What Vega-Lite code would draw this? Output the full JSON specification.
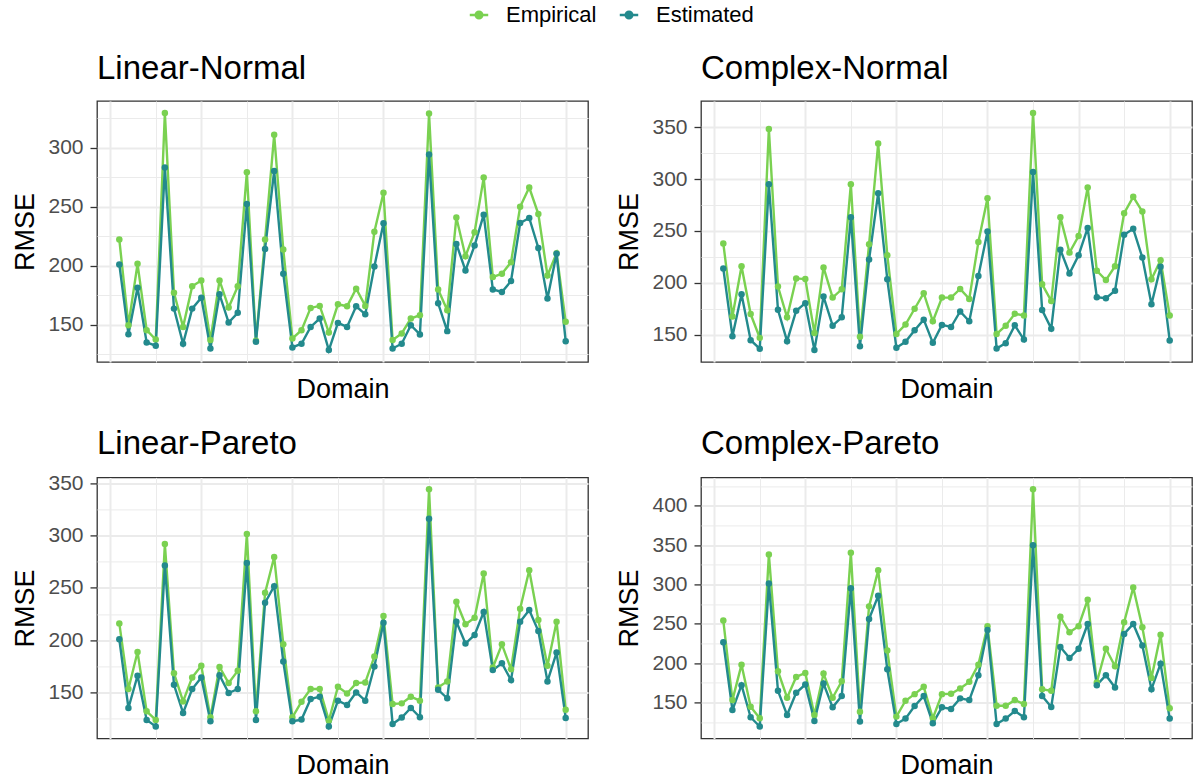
{
  "$schema": "https://vega.github.io/schema/vega-lite/v6.json",
  "padding": {"left": 11, "top": 4, "right": 6, "bottom": 4},
  "background": "white",
  "data": {"values": [
    {"panel":"Linear-Normal","domain":1,"Empirical":222.1,"Estimated":201.0},
    {"panel":"Linear-Normal","domain":2,"Empirical":149.4,"Estimated":141.8},
    {"panel":"Linear-Normal","domain":3,"Empirical":201.5,"Estimated":181.3},
    {"panel":"Linear-Normal","domain":4,"Empirical":145.2,"Estimated":134.8},
    {"panel":"Linear-Normal","domain":5,"Empirical":137.3,"Estimated":132.0},
    {"panel":"Linear-Normal","domain":6,"Empirical":329.6,"Estimated":283.2},
    {"panel":"Linear-Normal","domain":7,"Empirical":177.0,"Estimated":163.5},
    {"panel":"Linear-Normal","domain":8,"Empirical":148.0,"Estimated":133.7},
    {"panel":"Linear-Normal","domain":9,"Empirical":182.4,"Estimated":163.5},
    {"panel":"Linear-Normal","domain":10,"Empirical":187.4,"Estimated":172.8},
    {"panel":"Linear-Normal","domain":11,"Empirical":136.8,"Estimated":129.7},
    {"panel":"Linear-Normal","domain":12,"Empirical":187.4,"Estimated":175.6},
    {"panel":"Linear-Normal","domain":13,"Empirical":164.4,"Estimated":151.7},
    {"panel":"Linear-Normal","domain":14,"Empirical":182.4,"Estimated":159.9},
    {"panel":"Linear-Normal","domain":15,"Empirical":279.2,"Estimated":252.2},
    {"panel":"Linear-Normal","domain":16,"Empirical":136.2,"Estimated":135.4},
    {"panel":"Linear-Normal","domain":17,"Empirical":222.1,"Estimated":214.2},
    {"panel":"Linear-Normal","domain":18,"Empirical":311.0,"Estimated":280.3},
    {"panel":"Linear-Normal","domain":19,"Empirical":213.6,"Estimated":193.1},
    {"panel":"Linear-Normal","domain":20,"Empirical":138.2,"Estimated":130.6},
    {"panel":"Linear-Normal","domain":21,"Empirical":145.2,"Estimated":133.7},
    {"panel":"Linear-Normal","domain":22,"Empirical":164.1,"Estimated":148.0},
    {"panel":"Linear-Normal","domain":23,"Empirical":165.8,"Estimated":155.1},
    {"panel":"Linear-Normal","domain":24,"Empirical":143.2,"Estimated":128.3},
    {"panel":"Linear-Normal","domain":25,"Empirical":167.2,"Estimated":151.4},
    {"panel":"Linear-Normal","domain":26,"Empirical":165.5,"Estimated":148.0},
    {"panel":"Linear-Normal","domain":27,"Empirical":180.4,"Estimated":165.5},
    {"panel":"Linear-Normal","domain":28,"Empirical":165.8,"Estimated":158.7},
    {"panel":"Linear-Normal","domain":29,"Empirical":228.8,"Estimated":199.3},
    {"panel":"Linear-Normal","domain":30,"Empirical":261.8,"Estimated":235.9},
    {"panel":"Linear-Normal","domain":31,"Empirical":136.8,"Estimated":129.7},
    {"panel":"Linear-Normal","domain":32,"Empirical":142.4,"Estimated":133.7},
    {"panel":"Linear-Normal","domain":33,"Empirical":155.1,"Estimated":149.4},
    {"panel":"Linear-Normal","domain":34,"Empirical":157.9,"Estimated":141.6},
    {"panel":"Linear-Normal","domain":35,"Empirical":329.0,"Estimated":294.4},
    {"panel":"Linear-Normal","domain":36,"Empirical":179.8,"Estimated":168.0},
    {"panel":"Linear-Normal","domain":37,"Empirical":162.1,"Estimated":144.4},
    {"panel":"Linear-Normal","domain":38,"Empirical":240.9,"Estimated":218.4},
    {"panel":"Linear-Normal","domain":39,"Empirical":208.0,"Estimated":195.9},
    {"panel":"Linear-Normal","domain":40,"Empirical":228.3,"Estimated":217.0},
    {"panel":"Linear-Normal","domain":41,"Empirical":274.7,"Estimated":243.2},
    {"panel":"Linear-Normal","domain":42,"Empirical":190.3,"Estimated":179.8},
    {"panel":"Linear-Normal","domain":43,"Empirical":193.1,"Estimated":177.6},
    {"panel":"Linear-Normal","domain":44,"Empirical":202.9,"Estimated":186.9},
    {"panel":"Linear-Normal","domain":45,"Empirical":249.9,"Estimated":236.1},
    {"panel":"Linear-Normal","domain":46,"Empirical":266.3,"Estimated":240.4},
    {"panel":"Linear-Normal","domain":47,"Empirical":243.8,"Estimated":215.0},
    {"panel":"Linear-Normal","domain":48,"Empirical":191.7,"Estimated":172.0},
    {"panel":"Linear-Normal","domain":49,"Empirical":210.5,"Estimated":210.0},
    {"panel":"Linear-Normal","domain":50,"Empirical":152.3,"Estimated":135.9},
    {"panel":"Complex-Normal","domain":1,"Empirical":238.0,"Estimated":213.8},
    {"panel":"Complex-Normal","domain":2,"Empirical":167.5,"Estimated":148.4},
    {"panel":"Complex-Normal","domain":3,"Empirical":216.0,"Estimated":188.9},
    {"panel":"Complex-Normal","domain":4,"Empirical":169.8,"Estimated":144.6},
    {"panel":"Complex-Normal","domain":5,"Empirical":146.8,"Estimated":136.3},
    {"panel":"Complex-Normal","domain":6,"Empirical":348.4,"Estimated":295.1},
    {"panel":"Complex-Normal","domain":7,"Empirical":196.3,"Estimated":173.9},
    {"panel":"Complex-Normal","domain":8,"Empirical":166.6,"Estimated":143.6},
    {"panel":"Complex-Normal","domain":9,"Empirical":204.2,"Estimated":173.0},
    {"panel":"Complex-Normal","domain":10,"Empirical":203.6,"Estimated":180.3},
    {"panel":"Complex-Normal","domain":11,"Empirical":151.6,"Estimated":135.0},
    {"panel":"Complex-Normal","domain":12,"Empirical":214.8,"Estimated":186.7},
    {"panel":"Complex-Normal","domain":13,"Empirical":185.7,"Estimated":158.6},
    {"panel":"Complex-Normal","domain":14,"Empirical":193.7,"Estimated":166.6},
    {"panel":"Complex-Normal","domain":15,"Empirical":295.1,"Estimated":263.2},
    {"panel":"Complex-Normal","domain":16,"Empirical":147.8,"Estimated":138.8},
    {"panel":"Complex-Normal","domain":17,"Empirical":237.1,"Estimated":222.4},
    {"panel":"Complex-Normal","domain":18,"Empirical":334.4,"Estimated":286.5},
    {"panel":"Complex-Normal","domain":19,"Empirical":226.6,"Estimated":203.3},
    {"panel":"Complex-Normal","domain":20,"Empirical":150.6,"Estimated":137.2},
    {"panel":"Complex-Normal","domain":21,"Empirical":159.6,"Estimated":143.0},
    {"panel":"Complex-Normal","domain":22,"Empirical":174.9,"Estimated":154.1},
    {"panel":"Complex-Normal","domain":23,"Empirical":189.9,"Estimated":164.4},
    {"panel":"Complex-Normal","domain":24,"Empirical":162.8,"Estimated":142.0},
    {"panel":"Complex-Normal","domain":25,"Empirical":185.7,"Estimated":159.3},
    {"panel":"Complex-Normal","domain":26,"Empirical":185.7,"Estimated":157.3},
    {"panel":"Complex-Normal","domain":27,"Empirical":194.0,"Estimated":172.3},
    {"panel":"Complex-Normal","domain":28,"Empirical":184.4,"Estimated":162.8},
    {"panel":"Complex-Normal","domain":29,"Empirical":239.3,"Estimated":206.5},
    {"panel":"Complex-Normal","domain":30,"Empirical":281.7,"Estimated":249.5},
    {"panel":"Complex-Normal","domain":31,"Empirical":150.6,"Estimated":136.6},
    {"panel":"Complex-Normal","domain":32,"Empirical":158.6,"Estimated":141.7},
    {"panel":"Complex-Normal","domain":33,"Empirical":170.1,"Estimated":158.9},
    {"panel":"Complex-Normal","domain":34,"Empirical":168.5,"Estimated":145.2},
    {"panel":"Complex-Normal","domain":35,"Empirical":364.0,"Estimated":306.9},
    {"panel":"Complex-Normal","domain":36,"Empirical":198.5,"Estimated":173.6},
    {"panel":"Complex-Normal","domain":37,"Empirical":182.5,"Estimated":155.7},
    {"panel":"Complex-Normal","domain":38,"Empirical":263.2,"Estimated":232.0},
    {"panel":"Complex-Normal","domain":39,"Empirical":229.1,"Estimated":209.0},
    {"panel":"Complex-Normal","domain":40,"Empirical":245.1,"Estimated":226.6},
    {"panel":"Complex-Normal","domain":41,"Empirical":292.0,"Estimated":253.0},
    {"panel":"Complex-Normal","domain":42,"Empirical":211.6,"Estimated":186.0},
    {"panel":"Complex-Normal","domain":43,"Empirical":202.6,"Estimated":185.1},
    {"panel":"Complex-Normal","domain":44,"Empirical":216.0,"Estimated":192.4},
    {"panel":"Complex-Normal","domain":45,"Empirical":267.1,"Estimated":246.3},
    {"panel":"Complex-Normal","domain":46,"Empirical":283.0,"Estimated":252.1},
    {"panel":"Complex-Normal","domain":47,"Empirical":268.7,"Estimated":224.3},
    {"panel":"Complex-Normal","domain":48,"Empirical":203.3,"Estimated":179.3},
    {"panel":"Complex-Normal","domain":49,"Empirical":221.8,"Estimated":215.4},
    {"panel":"Complex-Normal","domain":50,"Empirical":168.5,"Estimated":144.3},
    {"panel":"Linear-Pareto","domain":1,"Empirical":216.0,"Estimated":200.8},
    {"panel":"Linear-Pareto","domain":2,"Empirical":153.2,"Estimated":135.1},
    {"panel":"Linear-Pareto","domain":3,"Empirical":188.7,"Estimated":165.9},
    {"panel":"Linear-Pareto","domain":4,"Empirical":131.9,"Estimated":123.7},
    {"panel":"Linear-Pareto","domain":5,"Empirical":123.7,"Estimated":117.3},
    {"panel":"Linear-Pareto","domain":6,"Empirical":291.9,"Estimated":271.3},
    {"panel":"Linear-Pareto","domain":7,"Empirical":168.4,"Estimated":157.3},
    {"panel":"Linear-Pareto","domain":8,"Empirical":141.4,"Estimated":130.3},
    {"panel":"Linear-Pareto","domain":9,"Empirical":164.3,"Estimated":153.2},
    {"panel":"Linear-Pareto","domain":10,"Empirical":175.4,"Estimated":164.3},
    {"panel":"Linear-Pareto","domain":11,"Empirical":126.2,"Estimated":122.4},
    {"panel":"Linear-Pareto","domain":12,"Empirical":174.4,"Estimated":166.5},
    {"panel":"Linear-Pareto","domain":13,"Empirical":158.9,"Estimated":149.4},
    {"panel":"Linear-Pareto","domain":14,"Empirical":170.6,"Estimated":153.2},
    {"panel":"Linear-Pareto","domain":15,"Empirical":301.4,"Estimated":273.8},
    {"panel":"Linear-Pareto","domain":16,"Empirical":131.9,"Estimated":123.7},
    {"panel":"Linear-Pareto","domain":17,"Empirical":245.2,"Estimated":235.7},
    {"panel":"Linear-Pareto","domain":18,"Empirical":279.5,"Estimated":251.6},
    {"panel":"Linear-Pareto","domain":19,"Empirical":196.0,"Estimated":179.5},
    {"panel":"Linear-Pareto","domain":20,"Empirical":126.2,"Estimated":122.4},
    {"panel":"Linear-Pareto","domain":21,"Empirical":141.1,"Estimated":124.0},
    {"panel":"Linear-Pareto","domain":22,"Empirical":153.2,"Estimated":143.7},
    {"panel":"Linear-Pareto","domain":23,"Empirical":153.2,"Estimated":145.9},
    {"panel":"Linear-Pareto","domain":24,"Empirical":123.0,"Estimated":117.3},
    {"panel":"Linear-Pareto","domain":25,"Empirical":155.4,"Estimated":142.1},
    {"panel":"Linear-Pareto","domain":26,"Empirical":149.0,"Estimated":137.9},
    {"panel":"Linear-Pareto","domain":27,"Empirical":158.9,"Estimated":150.0},
    {"panel":"Linear-Pareto","domain":28,"Empirical":159.5,"Estimated":142.1},
    {"panel":"Linear-Pareto","domain":29,"Empirical":184.3,"Estimated":174.8},
    {"panel":"Linear-Pareto","domain":30,"Empirical":223.0,"Estimated":216.7},
    {"panel":"Linear-Pareto","domain":31,"Empirical":138.9,"Estimated":119.8},
    {"panel":"Linear-Pareto","domain":32,"Empirical":139.5,"Estimated":125.9},
    {"panel":"Linear-Pareto","domain":33,"Empirical":145.9,"Estimated":135.1},
    {"panel":"Linear-Pareto","domain":34,"Empirical":142.1,"Estimated":126.2},
    {"panel":"Linear-Pareto","domain":35,"Empirical":344.3,"Estimated":316.0},
    {"panel":"Linear-Pareto","domain":36,"Empirical":154.8,"Estimated":152.5},
    {"panel":"Linear-Pareto","domain":37,"Empirical":160.5,"Estimated":144.3},
    {"panel":"Linear-Pareto","domain":38,"Empirical":236.7,"Estimated":217.6},
    {"panel":"Linear-Pareto","domain":39,"Empirical":215.1,"Estimated":196.7},
    {"panel":"Linear-Pareto","domain":40,"Empirical":221.4,"Estimated":204.9},
    {"panel":"Linear-Pareto","domain":41,"Empirical":263.7,"Estimated":226.8},
    {"panel":"Linear-Pareto","domain":42,"Empirical":173.8,"Estimated":171.3},
    {"panel":"Linear-Pareto","domain":43,"Empirical":196.0,"Estimated":177.9},
    {"panel":"Linear-Pareto","domain":44,"Empirical":172.2,"Estimated":161.7},
    {"panel":"Linear-Pareto","domain":45,"Empirical":230.0,"Estimated":217.6},
    {"panel":"Linear-Pareto","domain":46,"Empirical":266.8,"Estimated":228.7},
    {"panel":"Linear-Pareto","domain":47,"Empirical":219.2,"Estimated":208.7},
    {"panel":"Linear-Pareto","domain":48,"Empirical":175.4,"Estimated":160.5},
    {"panel":"Linear-Pareto","domain":49,"Empirical":217.6,"Estimated":188.1},
    {"panel":"Linear-Pareto","domain":50,"Empirical":133.5,"Estimated":125.6},
    {"panel":"Complex-Pareto","domain":1,"Empirical":254.0,"Estimated":226.6},
    {"panel":"Complex-Pareto","domain":2,"Empirical":152.9,"Estimated":140.3},
    {"panel":"Complex-Pareto","domain":3,"Empirical":198.0,"Estimated":171.9},
    {"panel":"Complex-Pareto","domain":4,"Empirical":144.5,"Estimated":131.1},
    {"panel":"Complex-Pareto","domain":5,"Empirical":129.8,"Estimated":119.3},
    {"panel":"Complex-Pareto","domain":6,"Empirical":338.1,"Estimated":301.1},
    {"panel":"Complex-Pareto","domain":7,"Empirical":189.6,"Estimated":164.7},
    {"panel":"Complex-Pareto","domain":8,"Empirical":155.9,"Estimated":134.0},
    {"panel":"Complex-Pareto","domain":9,"Empirical":182.4,"Estimated":162.2},
    {"panel":"Complex-Pareto","domain":10,"Empirical":187.5,"Estimated":172.7},
    {"panel":"Complex-Pareto","domain":11,"Empirical":134.0,"Estimated":126.4},
    {"panel":"Complex-Pareto","domain":12,"Empirical":186.6,"Estimated":174.0},
    {"panel":"Complex-Pareto","domain":13,"Empirical":155.9,"Estimated":143.7},
    {"panel":"Complex-Pareto","domain":14,"Empirical":176.9,"Estimated":158.0},
    {"panel":"Complex-Pareto","domain":15,"Empirical":340.2,"Estimated":295.2},
    {"panel":"Complex-Pareto","domain":16,"Empirical":138.2,"Estimated":125.6},
    {"panel":"Complex-Pareto","domain":17,"Empirical":272.1,"Estimated":256.1},
    {"panel":"Complex-Pareto","domain":18,"Empirical":317.9,"Estimated":285.5},
    {"panel":"Complex-Pareto","domain":19,"Empirical":216.1,"Estimated":192.1},
    {"panel":"Complex-Pareto","domain":20,"Empirical":131.9,"Estimated":122.6},
    {"panel":"Complex-Pareto","domain":21,"Empirical":152.1,"Estimated":129.4},
    {"panel":"Complex-Pareto","domain":22,"Empirical":160.5,"Estimated":145.4},
    {"panel":"Complex-Pareto","domain":23,"Empirical":169.8,"Estimated":158.0},
    {"panel":"Complex-Pareto","domain":24,"Empirical":129.8,"Estimated":123.5},
    {"panel":"Complex-Pareto","domain":25,"Empirical":160.5,"Estimated":143.7},
    {"panel":"Complex-Pareto","domain":26,"Empirical":160.9,"Estimated":141.6},
    {"panel":"Complex-Pareto","domain":27,"Empirical":167.7,"Estimated":155.1},
    {"panel":"Complex-Pareto","domain":28,"Empirical":176.1,"Estimated":152.9},
    {"panel":"Complex-Pareto","domain":29,"Empirical":198.0,"Estimated":184.5},
    {"panel":"Complex-Pareto","domain":30,"Empirical":246.8,"Estimated":242.2},
    {"panel":"Complex-Pareto","domain":31,"Empirical":145.8,"Estimated":122.6},
    {"panel":"Complex-Pareto","domain":32,"Empirical":145.8,"Estimated":129.4},
    {"panel":"Complex-Pareto","domain":33,"Empirical":152.9,"Estimated":139.1},
    {"panel":"Complex-Pareto","domain":34,"Empirical":147.9,"Estimated":131.1},
    {"panel":"Complex-Pareto","domain":35,"Empirical":421.0,"Estimated":349.9},
    {"panel":"Complex-Pareto","domain":36,"Empirical":166.8,"Estimated":158.0},
    {"panel":"Complex-Pareto","domain":37,"Empirical":164.7,"Estimated":144.1},
    {"panel":"Complex-Pareto","domain":38,"Empirical":259.0,"Estimated":220.3},
    {"panel":"Complex-Pareto","domain":39,"Empirical":239.2,"Estimated":206.4},
    {"panel":"Complex-Pareto","domain":40,"Empirical":246.8,"Estimated":218.2},
    {"panel":"Complex-Pareto","domain":41,"Empirical":280.5,"Estimated":249.7},
    {"panel":"Complex-Pareto","domain":42,"Empirical":175.3,"Estimated":171.9},
    {"panel":"Complex-Pareto","domain":43,"Empirical":218.2,"Estimated":184.5},
    {"panel":"Complex-Pareto","domain":44,"Empirical":195.9,"Estimated":168.9},
    {"panel":"Complex-Pareto","domain":45,"Empirical":251.9,"Estimated":237.1},
    {"panel":"Complex-Pareto","domain":46,"Empirical":296.0,"Estimated":249.7},
    {"panel":"Complex-Pareto","domain":47,"Empirical":245.5,"Estimated":222.4},
    {"panel":"Complex-Pareto","domain":48,"Empirical":181.1,"Estimated":166.8},
    {"panel":"Complex-Pareto","domain":49,"Empirical":235.9,"Estimated":199.2},
    {"panel":"Complex-Pareto","domain":50,"Empirical":142.4,"Estimated":129.4}
  ]},
  "transform": [{"fold": ["Empirical", "Estimated"], "as": ["series", "rmse"]}],
  "columns": 2,
  "bounds": "flush",
  "spacing": {"row": 115.4, "column": 113},
  "concat": [
    {
      "title": {"text": "Linear-Normal", "offset": 15},
      "width": 491, "height": 261,
      "transform": [{"filter": "datum.panel === 'Linear-Normal'"}],
      "encoding": {
        "x": {"field": "domain", "type": "quantitative", "scale": {"domain": [-1.45, 52.45], "nice": false, "zero": false},
              "axis": {"title": "Domain", "values": [0,5,10,15,20,25,30,35,40,45,50], "labels": false, "ticks": false, "gridWidth": {"condition": {"test": "datum.value % 10 === 0", "value": 2}, "value": 1}}},
        "y": {"field": "rmse", "type": "quantitative", "scale": {"domain": [118.2, 339.7], "nice": false, "zero": false},
              "axis": {"title": "RMSE", "values": [125,150,175,200,225,250,275,300,325], "labelExpr": "datum.value % 50 === 0 ? datum.label : ''", "tickOpacity": {"condition": {"test": "datum.value % 50 === 0", "value": 1}, "value": 0}, "gridWidth": {"condition": {"test": "datum.value % 50 === 0", "value": 2}, "value": 1}}},
        "color": {"field": "series", "type": "nominal", "scale": {"domain": ["Empirical", "Estimated"], "range": ["#7AD151", "#238A8D"]},
                  "legend": {"title": null, "orient": "none", "direction": "horizontal", "legendX": 371, "legendY": -97}}
      },
      "layer": [
        {"mark": {"type": "line", "strokeWidth": 2.4}},
        {"mark": {"type": "point", "filled": true, "size": 42, "opacity": 1}}
      ]
    },
    {
      "title": {"text": "Complex-Normal", "offset": 15},
      "width": 491, "height": 261,
      "transform": [{"filter": "datum.panel === 'Complex-Normal'"}],
      "encoding": {
        "x": {"field": "domain", "type": "quantitative", "scale": {"domain": [-1.45, 52.45], "nice": false, "zero": false},
              "axis": {"title": "Domain", "values": [0,5,10,15,20,25,30,35,40,45,50], "labels": false, "ticks": false, "gridWidth": {"condition": {"test": "datum.value % 10 === 0", "value": 2}, "value": 1}}},
        "y": {"field": "rmse", "type": "quantitative", "scale": {"domain": [123.5, 375.5], "nice": false, "zero": false},
              "axis": {"title": "RMSE", "values": [150,175,200,225,250,275,300,325,350], "labelExpr": "datum.value % 50 === 0 ? datum.label : ''", "tickOpacity": {"condition": {"test": "datum.value % 50 === 0", "value": 1}, "value": 0}, "gridWidth": {"condition": {"test": "datum.value % 50 === 0", "value": 2}, "value": 1}}},
        "color": {"field": "series", "type": "nominal", "scale": {"domain": ["Empirical", "Estimated"], "range": ["#7AD151", "#238A8D"]},
                  "legend": {"title": null, "orient": "none", "direction": "horizontal", "legendX": 371, "legendY": -97}}
      },
      "layer": [
        {"mark": {"type": "line", "strokeWidth": 2.4}},
        {"mark": {"type": "point", "filled": true, "size": 42, "opacity": 1}}
      ]
    },
    {
      "title": {"text": "Linear-Pareto", "offset": 11},
      "width": 491, "height": 261,
      "transform": [{"filter": "datum.panel === 'Linear-Pareto'"}],
      "encoding": {
        "x": {"field": "domain", "type": "quantitative", "scale": {"domain": [-1.45, 52.45], "nice": false, "zero": false},
              "axis": {"title": "Domain", "values": [0,5,10,15,20,25,30,35,40,45,50], "labels": false, "ticks": false, "gridWidth": {"condition": {"test": "datum.value % 10 === 0", "value": 2}, "value": 1}}},
        "y": {"field": "rmse", "type": "quantitative", "scale": {"domain": [106, 355.6], "nice": false, "zero": false},
              "axis": {"title": "RMSE", "values": [125,150,175,200,225,250,275,300,325,350], "labelExpr": "datum.value % 50 === 0 ? datum.label : ''", "tickOpacity": {"condition": {"test": "datum.value % 50 === 0", "value": 1}, "value": 0}, "gridWidth": {"condition": {"test": "datum.value % 50 === 0", "value": 2}, "value": 1}}},
        "color": {"field": "series", "type": "nominal", "scale": {"domain": ["Empirical", "Estimated"], "range": ["#7AD151", "#238A8D"]},
                  "legend": {"title": null, "orient": "none", "direction": "horizontal", "legendX": 371, "legendY": -97}}
      },
      "layer": [
        {"mark": {"type": "line", "strokeWidth": 2.4}},
        {"mark": {"type": "point", "filled": true, "size": 42, "opacity": 1}}
      ]
    },
    {
      "title": {"text": "Complex-Pareto", "offset": 16},
      "width": 491, "height": 261,
      "transform": [{"filter": "datum.panel === 'Complex-Pareto'"}],
      "encoding": {
        "x": {"field": "domain", "type": "quantitative", "scale": {"domain": [-1.45, 52.45], "nice": false, "zero": false},
              "axis": {"title": "Domain", "values": [0,5,10,15,20,25,30,35,40,45,50], "labels": false, "ticks": false, "gridWidth": {"condition": {"test": "datum.value % 10 === 0", "value": 2}, "value": 1}}},
        "y": {"field": "rmse", "type": "quantitative", "scale": {"domain": [104.2, 436.1], "nice": false, "zero": false},
              "axis": {"title": "RMSE", "values": [125,150,175,200,225,250,275,300,325,350,375,400,425], "labelExpr": "datum.value % 50 === 0 ? datum.label : ''", "tickOpacity": {"condition": {"test": "datum.value % 50 === 0", "value": 1}, "value": 0}, "gridWidth": {"condition": {"test": "datum.value % 50 === 0", "value": 2}, "value": 1}}},
        "color": {"field": "series", "type": "nominal", "scale": {"domain": ["Empirical", "Estimated"], "range": ["#7AD151", "#238A8D"]},
                  "legend": {"title": null, "orient": "none", "direction": "horizontal", "legendX": 371, "legendY": -97}}
      },
      "layer": [
        {"mark": {"type": "line", "strokeWidth": 2.4}},
        {"mark": {"type": "point", "filled": true, "size": 42, "opacity": 1}}
      ]
    }
  ],
  "config": {
    "font": "Liberation Sans",
    "view": {"stroke": "#333333", "strokeWidth": 1.3},
    "title": {"font": "Liberation Sans", "fontSize": 33, "fontWeight": "normal", "color": "#000000", "anchor": "start", "frame": "group", "baseline": "alphabetic", "offset": 15},
    "axis": {
      "domain": false,
      "labelFont": "Liberation Sans", "labelFontSize": 21, "labelColor": "#4D4D4D", "labelPadding": 7,
      "tickColor": "#333333", "tickSize": 7, "tickWidth": 1.3,
      "gridColor": "#EBEBEB",
      "titleFont": "Liberation Sans", "titleFontSize": 27, "titleFontWeight": "normal", "titleColor": "#000000"
    },
    "axisX": {"titlePadding": 35, "titleBaseline": "alphabetic"},
    "axisY": {"titlePadding": 8},
    "legend": {
      "labelFont": "Liberation Sans", "labelFontSize": 22, "labelColor": "#000000",
      "symbolType": "M-1,0H1M0.36,0A0.36,0.36,0,1,1,-0.36,0A0.36,0.36,0,1,1,0.36,0Z",
      "symbolSize": 340, "symbolStrokeWidth": 2.4, "labelOffset": 16, "columnPadding": 17, "padding": 0
    }
  }
}
